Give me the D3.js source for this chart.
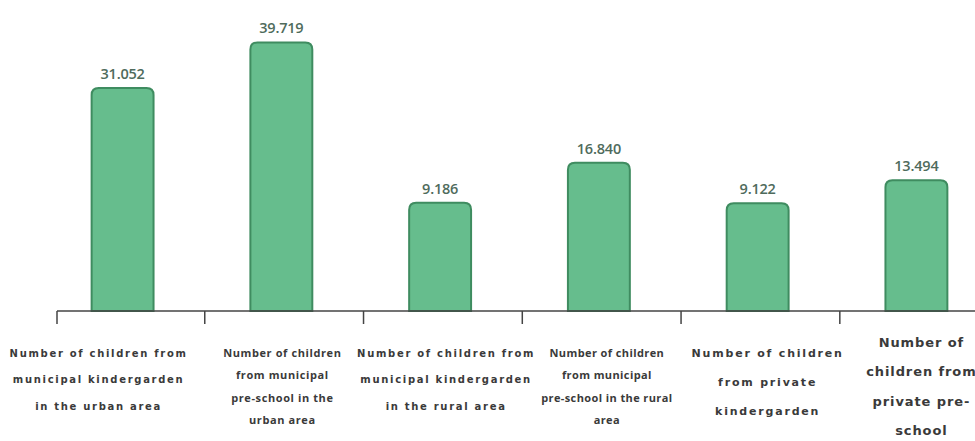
<!DOCTYPE html>
<html>
<head>
<meta charset="utf-8">
<script src="https://cdn.jsdelivr.net/npm/d3@7"></script>
<style>
  body { margin: 0; background: #fff; }
</style>
</head>
<body>
<div id="chart"></div>
<script>
// chart data
var categories = ["urbanKinder", "urbanPre", "ruralKinder", "ruralPre", "privKinder", "privPre"];
var values = [31052, 39719, 9186, 16840, 9122, 13494];
var valueLabels = ["31.052", "39.719", "9.186", "16.840", "9.122", "13.494"];
var labelLines = [
    ["Number of children from", "municipal kindergarden", "in the urban area"],
    ["Number of children", "from municipal", "pre-school in the", "urban area"],
    ["Number of children from", "municipal kindergarden", "in the rural area"],
    ["Number of children", "from municipal", "pre-school in the rural", "area"],
    ["Number of children", "from private", "kindergarden"],
    ["Number of", "children from", "private pre-", "school"]
];
// label styles per category (font size, line gap, letter spacing, shift)
var labelStyle = [
    { size: 10, gap: 26.5, ls: 1.7, y0: 353, dx: -24, font: "'DejaVu Sans', sans-serif" },
    { size: 11, gap: 22.5, ls: 0.6, y0: 353, dx: 1, font: "'Open Sans', sans-serif" },
    { size: 10, gap: 26.5, ls: 1.7, y0: 353, dx: 6, font: "'DejaVu Sans', sans-serif" },
    { size: 11, gap: 22.5, ls: 0.4, y0: 353, dx: 8, font: "'Open Sans', sans-serif" },
    { size: 11, gap: 29, ls: 1.8, y0: 353, dx: 10, font: "'DejaVu Sans', sans-serif" },
    { size: 13, gap: 29.5, ls: 0.9, y0: 342, dx: 5, font: "'DejaVu Sans', sans-serif" }
];

var width = 975, height = 441;
var baseY = 311;

var svg = d3.select("#chart")
    .append("svg")
    .attr("width", width)
    .attr("height", height);

var x = d3.scaleBand()
    .domain(categories)
    .range([44, 995])
    .paddingInner(0.61)
    .paddingOuter(0.3);

// infographic bars are not drawn from zero, so the scale starts below it
var y = d3.scaleLinear()
    .domain([-11400, 40000])
    .range([baseY, 41]);

// bars with rounded tops
function barPath(d, i) {
    var x0 = x(categories[i]), w = x.bandwidth();
    var top = y(d), r = 7;
    return "M" + x0 + "," + baseY +
        "V" + (top + r) +
        "Q" + x0 + "," + top + " " + (x0 + r) + "," + top +
        "H" + (x0 + w - r) +
        "Q" + (x0 + w) + "," + top + " " + (x0 + w) + "," + (top + r) +
        "V" + baseY + "Z";
}

svg.selectAll("path.bar")
    .data(values)
    .enter()
    .append("path")
    .attr("class", "bar")
    .attr("d", barPath)
    .style("fill", "#66bd8d")
    .style("stroke", "#3f8c60")
    .style("stroke-width", 2);

svg.selectAll("text.val")
    .data(values)
    .enter()
    .append("text")
    .attr("class", "val")
    .attr("x", function (d, i) { return x(categories[i]) + x.bandwidth() / 2; })
    .attr("y", function (d) { return y(d) - 9; })
    .attr("text-anchor", "middle")
    .style("font-family", "'Open Sans', sans-serif")
    .style("font-weight", "600")
    .style("font-size", "14.5px")
    .style("letter-spacing", "-0.2px")
    .style("fill", "#4f6b5c")
    .text(function (d, i) { return valueLabels[i]; });

// axis line and ticks
var step = x.step();
var axisStart = 57;
svg.append("line")
    .attr("x1", axisStart).attr("x2", width)
    .attr("y1", baseY).attr("y2", baseY)
    .style("stroke", "#444")
    .style("stroke-width", 1.5);

var tickXs = [axisStart];
for (var i = 1; i < categories.length; i++) {
    tickXs.push(x.range()[0] + step * i + 2);
}
svg.selectAll("line.tick")
    .data(tickXs)
    .enter()
    .append("line")
    .attr("class", "tick")
    .attr("x1", function (d) { return d; })
    .attr("x2", function (d) { return d; })
    .attr("y1", baseY)
    .attr("y2", baseY + 13)
    .style("stroke", "#444")
    .style("stroke-width", 1.5);

// category labels
var groups = svg.selectAll("g.lab")
    .data(labelLines)
    .enter()
    .append("g")
    .attr("class", "lab");

groups.each(function (lines, i) {
    var st = labelStyle[i];
    var cx = x(categories[i]) + x.bandwidth() / 2 + st.dx;
    d3.select(this).selectAll("text")
        .data(lines)
        .enter()
        .append("text")
        .attr("x", cx)
        .attr("y", function (d, j) { return st.y0 + j * st.gap + st.size * 0.35; })
        .attr("text-anchor", "middle")
        .style("font-family", st.font)
        .style("font-weight", "700")
        .style("font-size", st.size + "px")
        .style("letter-spacing", st.ls + "px")
        .style("fill", "#3a3a3a")
        .text(function (d) { return d; });
});
</script>
</body>
</html>
